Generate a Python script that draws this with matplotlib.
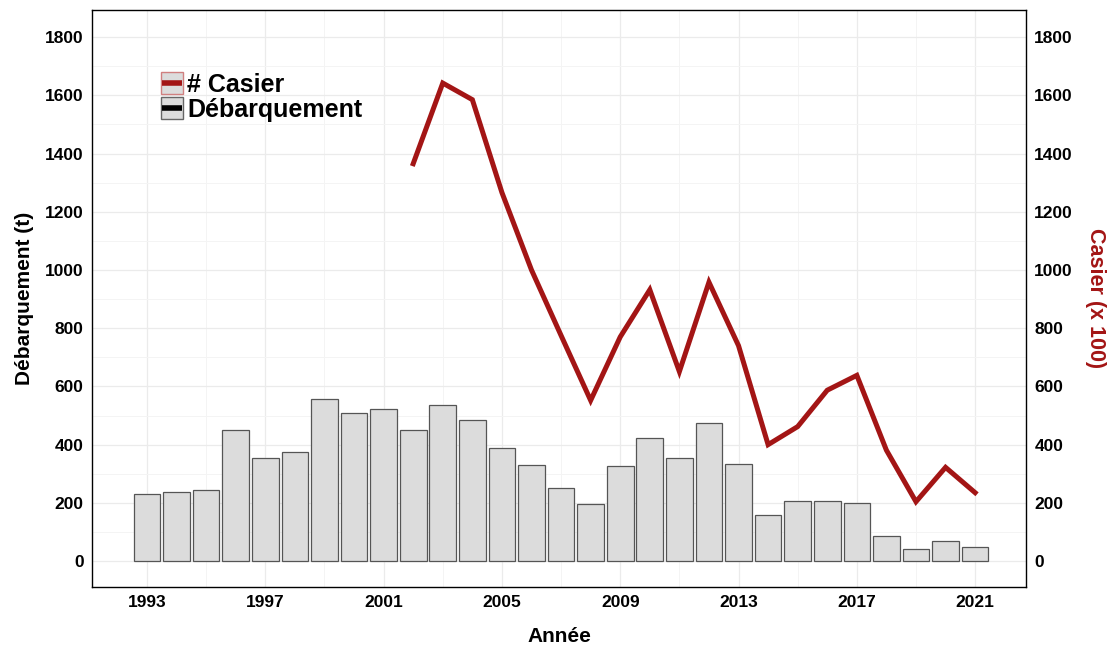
import matplotlib
matplotlib.use("Agg")
import matplotlib.pyplot as plt
from matplotlib.patches import Rectangle
from matplotlib.lines import Line2D
from matplotlib.legend_handler import HandlerBase

years = list(range(1993, 2022))
debarquement = [232, 238, 243, 451, 355, 375, 557, 509, 521, 452, 535, 483, 387, 329, 252,
                195, 325, 424, 354, 473, 332, 157, 208, 207, 199, 85, 40, 70, 50]
casier_years = list(range(2002, 2022))
casier = [1365, 1642, 1585, 1266, 1000, 775, 552, 770, 932, 651, 958, 740, 400, 462, 587,
          638, 381, 204, 322, 235]
xticks = [1993, 1997, 2001, 2005, 2009, 2013, 2017, 2021]
yticks = [0, 200, 400, 600, 800, 1000, 1200, 1400, 1600, 1800]

plt.rcParams['font.family'] = ['Liberation Sans', 'DejaVu Sans']
RED = '#A31515'


class KeyHandler(HandlerBase):
    def __init__(self, edge, linecolor):
        super().__init__()
        self.edge = edge
        self.linecolor = linecolor

    def create_artists(self, legend, orig_handle, xdescent, ydescent, width, height, fontsize, trans):
        s = height
        x0 = -xdescent
        y0 = -ydescent
        r = Rectangle((x0, y0), s, s, facecolor='#DCDCDC', edgecolor=self.edge,
                      linewidth=1.0, transform=trans)
        ln = Line2D([x0 + 0.06 * s, x0 + 0.94 * s], [y0 + s / 2, y0 + s / 2],
                    color=self.linecolor, linewidth=4.0, transform=trans,
                    solid_capstyle='butt')
        return [r, ln]


fig = plt.figure(figsize=(11.14, 6.45), dpi=100)
ax = fig.add_axes([92/1114, 1-587/645, (1026-92)/1114, (587-10)/645])

ax.set_xlim(1991.14, 2022.72)
ax.set_ylim(-89, 1893)

ax.set_xticks(xticks)
ax.set_xticks([1995, 1999, 2003, 2007, 2011, 2015, 2019], minor=True)
ax.set_yticks(yticks)
ax.set_yticks([100, 300, 500, 700, 900, 1100, 1300, 1500, 1700], minor=True)
ax.grid(which='major', color='#EBEBEB', linewidth=0.9)
ax.grid(which='minor', color='#F4F4F4', linewidth=0.7)
ax.set_axisbelow(True)

ax.bar(years, debarquement, width=0.9, color='#DCDCDC', edgecolor='#555555', linewidth=0.9, zorder=2)
ax.plot(casier_years, casier, color=RED, linewidth=3.6, zorder=3, solid_joinstyle='miter')

for s in ax.spines.values():
    s.set_color('black')
    s.set_linewidth(1.0)

ax.tick_params(axis='both', which='major', labelsize=12.5, length=0, pad=6, labelcolor='black')
ax.tick_params(axis='both', which='minor', length=0)
for lab in ax.get_xticklabels() + ax.get_yticklabels():
    lab.set_fontweight('bold')

ax.set_xlabel('Année', fontsize=15, fontweight='bold', labelpad=12)
ax.set_ylabel('Débarquement (t)', fontsize=15, fontweight='bold', labelpad=8)

ax2 = ax.twinx()
ax2.set_ylim(ax.get_ylim())
ax2.set_yticks(yticks)
ax2.tick_params(axis='y', labelsize=12.5, length=0, pad=6)
for lab in ax2.get_yticklabels():
    lab.set_fontweight('bold')
ax2.set_ylabel('Casier (x 100)', fontsize=15.5, fontweight='bold', color=RED, rotation=270, labelpad=24)
for s in ax2.spines.values():
    s.set_visible(False)

h1 = Line2D([], [])
h2 = Line2D([], [])
leg = ax.legend([h1, h2], ['# Casier', 'Débarquement'],
                handler_map={h1: KeyHandler('#D08080', RED), h2: KeyHandler('#666666', 'black')},
                loc='upper left', bbox_to_anchor=(69/934, (587-72)/577), frameon=False,
                prop={'weight': 'bold', 'size': 18}, handlelength=1.0, handleheight=1.0,
                handletextpad=0.05, labelspacing=0.0, borderaxespad=0, borderpad=0)

fig.savefig('out.png', dpi=100, facecolor='white')
